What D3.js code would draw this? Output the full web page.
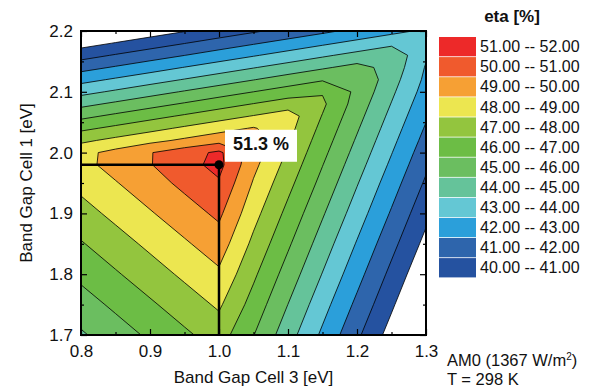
<!DOCTYPE html>
<html>
<head>
<meta charset="utf-8">
<script src="https://cdn.jsdelivr.net/npm/d3@7"></script>
<style>
body { margin: 0; background: #fff; }
text { font-family: "Liberation Sans", Arial, sans-serif; fill: #111; }
</style>
</head>
<body>
<script>

// grid of the calculation: band gap of cell 3 (columns) and cell 1 (rows, bottom to top)
var gapCell3 = [0.80, 0.85, 0.90, 0.95, 1.00, 1.05, 1.10, 1.15, 1.20, 1.25, 1.30];
var gapCell1 = [1.70, 1.75, 1.80, 1.85, 1.90, 1.95, 1.98, 2.00, 2.02, 2.04, 2.06,
                2.08, 2.10, 2.12, 2.14, 2.16, 2.18, 2.20];

// efficiency [%], one row per gapCell1 value
var eta = [
  [44.87, 45.52, 46.17, 46.82, 47.46, 46.03, 44.42, 42.81, 41.19, 39.58, 37.97],
  [45.55, 46.20, 46.85, 47.50, 48.15, 46.61, 44.99, 43.38, 41.77, 40.16, 38.54],
  [46.24, 46.89, 47.54, 48.19, 48.83, 47.18, 45.57, 43.96, 42.35, 40.73, 39.12],
  [46.92, 47.57, 48.22, 48.87, 49.52, 47.76, 46.15, 44.53, 42.92, 41.31, 39.70],
  [47.61, 48.26, 48.91, 49.56, 50.20, 48.34, 46.72, 45.11, 43.50, 41.89, 40.27],
  [48.29, 48.94, 49.59, 50.24, 50.89, 48.91, 47.30, 45.69, 44.07, 42.46, 40.85],
  [48.70, 49.35, 49.95, 50.65, 51.30, 49.26, 47.65, 46.03, 44.42, 42.81, 41.19],
  [48.70, 49.30, 49.95, 50.55, 51.20, 49.49, 47.88, 46.26, 44.65, 43.04, 41.42],
  [47.79, 48.26, 48.72, 49.18, 49.64, 49.72, 48.11, 46.49, 44.88, 43.27, 41.66],
  [46.77, 47.23, 47.69, 48.16, 48.62, 49.08, 48.34, 46.72, 45.11, 43.50, 41.89],
  [45.74, 46.21, 46.67, 47.13, 47.59, 48.05, 48.51, 46.95, 45.34, 43.73, 42.12],
  [44.72, 45.18, 45.64, 46.10, 46.57, 47.03, 47.49, 47.18, 45.57, 43.96, 42.35],
  [43.69, 44.15, 44.62, 45.08, 45.54, 46.00, 46.46, 46.92, 45.80, 44.19, 42.58],
  [42.67, 43.13, 43.59, 44.05, 44.51, 44.97, 45.44, 45.90, 45.95, 44.42, 42.78],
  [41.64, 42.10, 42.56, 43.03, 43.49, 43.95, 44.41, 44.87, 45.33, 44.65, 42.92],
  [40.61, 41.08, 41.54, 41.99, 42.46, 42.92, 43.38, 43.85, 44.31, 44.77, 43.12],
  [39.59, 40.05, 40.51, 40.97, 41.44, 41.90, 42.36, 42.82, 43.28, 43.74, 43.45],
  [38.56, 39.03, 39.49, 39.95, 40.41, 40.87, 41.33, 41.79, 42.26, 42.72, 43.18]
];

// contour levels and the colour of each band [level, level + 1]
var levels = [40, 41, 42, 43, 44, 45, 46, 47, 48, 49, 50, 51];
var bandColors = ["#2552a0", "#2e65ac", "#2b9fda", "#64c7d4", "#65c39a", "#6bbe60",
                  "#6cbd45", "#93c53e", "#ece650", "#f6a034", "#f05a2d", "#ed2929"];

var xTicks = [0.8, 0.9, 1.0, 1.1, 1.2, 1.3];
var yTicks = [1.7, 1.8, 1.9, 2.0, 2.1, 2.2];
var xMinor = [0.85, 0.95, 1.05, 1.15, 1.25];
var yMinor = [1.75, 1.85, 1.95, 2.05, 2.15];

// optimum
var optCell3 = 1.0,
    optCell1 = 1.98,
    optEta = 51.3;

var svg = d3.select("body").append("svg")
    .attr("width", 599)
    .attr("height", 390);

var x = d3.scaleLinear().domain([0.8, 1.3]).range([81, 426]),
    y = d3.scaleLinear().domain([1.7, 2.2]).range([335, 31]);

var pLeft = x.range()[0], pRight = x.range()[1],
    pTop = y.range()[1], pBottom = y.range()[0];

svg.append("defs").append("clipPath")
    .attr("id", "clip")
  .append("rect")
    .attr("x", pLeft)
    .attr("y", pTop)
    .attr("width", pRight - pLeft)
    .attr("height", pBottom - pTop);

// grid index -> band gap (rows are not evenly spaced)
var colToGap = d3.scaleLinear().domain(d3.range(gapCell3.length)).range(gapCell3).clamp(true),
    rowToGap = d3.scaleLinear().domain(d3.range(gapCell1.length)).range(gapCell1).clamp(true);

var nx = gapCell3.length, ny = gapCell1.length;
var values = [];
eta.forEach(function(row) { values = values.concat(row); });

var bands = d3.contours()
    .size([nx, ny])
    .thresholds(levels)(values);

// d3.contours puts sample i at i + 0.5
var toPixel = d3.geoTransform({
  point: function(cx, cy) {
    this.stream.point(x(colToGap(cx - 0.5)), y(rowToGap(cy - 0.5)));
  }
});
var path = d3.geoPath(toPixel);

var plot = svg.append("g").attr("clip-path", "url(#clip)");

plot.selectAll(".band")
    .data(bands)
    .enter().append("path")
    .attr("class", "band")
    .attr("d", path)
    .attr("fill", function(d, i) { return bandColors[i]; });

plot.selectAll(".iso")
    .data(bands)
    .enter().append("path")
    .attr("class", "iso")
    .attr("d", path)
    .attr("fill", "none")
    .attr("stroke", "#000")
    .attr("stroke-width", 0.8)
    .attr("stroke-linejoin", "round");

// crosshair to the optimum
plot.append("line")
    .attr("x1", pLeft).attr("x2", x(optCell3))
    .attr("y1", y(optCell1)).attr("y2", y(optCell1))
    .attr("stroke", "#000").attr("stroke-width", 2.5);
plot.append("line")
    .attr("x1", x(optCell3)).attr("x2", x(optCell3))
    .attr("y1", y(optCell1)).attr("y2", pBottom)
    .attr("stroke", "#000").attr("stroke-width", 2.5);
plot.append("circle")
    .attr("cx", x(optCell3))
    .attr("cy", y(optCell1))
    .attr("r", 4.5)
    .attr("fill", "#000");

var label = svg.append("g")
    .attr("transform", "translate(" + (x(optCell3) + 6) + "," + (y(optCell1) - 35) + ")");
label.append("rect")
    .attr("width", 72)
    .attr("height", 32)
    .attr("fill", "#fff");
label.append("text")
    .attr("x", 36)
    .attr("y", 14)
    .attr("dy", "0.35em")
    .attr("text-anchor", "middle")
    .style("font-size", "18px")
    .style("font-weight", "bold")
    .text(optEta.toFixed(1) + " %");

// axes, ticks point inwards on all four sides
var fmt = d3.format(".1f");

function ticks(g) {
  g.select(".domain").remove();
  g.selectAll(".tick line").attr("stroke", "#000").attr("stroke-width", 1.2);
  g.selectAll("text").style("font-size", "17px").attr("fill", "#111");
}

svg.append("g")
    .attr("transform", "translate(0," + pBottom + ")")
    .call(d3.axisBottom(x).tickValues(xTicks).tickFormat(fmt).tickSizeInner(-6).tickSizeOuter(0).tickPadding(10))
    .call(ticks);
svg.append("g")
    .attr("transform", "translate(0," + pBottom + ")")
    .call(d3.axisBottom(x).tickValues(xMinor).tickFormat("").tickSizeInner(-3).tickSizeOuter(0))
    .call(ticks);
svg.append("g")
    .attr("transform", "translate(0," + pTop + ")")
    .call(d3.axisTop(x).tickValues(xTicks).tickFormat("").tickSizeInner(-6).tickSizeOuter(0))
    .call(ticks);
svg.append("g")
    .attr("transform", "translate(0," + pTop + ")")
    .call(d3.axisTop(x).tickValues(xMinor).tickFormat("").tickSizeInner(-3).tickSizeOuter(0))
    .call(ticks);
svg.append("g")
    .attr("transform", "translate(" + pLeft + ",0)")
    .call(d3.axisLeft(y).tickValues(yTicks).tickFormat(fmt).tickSizeInner(-6).tickSizeOuter(0).tickPadding(8))
    .call(ticks);
svg.append("g")
    .attr("transform", "translate(" + pLeft + ",0)")
    .call(d3.axisLeft(y).tickValues(yMinor).tickFormat("").tickSizeInner(-3).tickSizeOuter(0))
    .call(ticks);
svg.append("g")
    .attr("transform", "translate(" + pRight + ",0)")
    .call(d3.axisRight(y).tickValues(yTicks).tickFormat("").tickSizeInner(-6).tickSizeOuter(0))
    .call(ticks);
svg.append("g")
    .attr("transform", "translate(" + pRight + ",0)")
    .call(d3.axisRight(y).tickValues(yMinor).tickFormat("").tickSizeInner(-3).tickSizeOuter(0))
    .call(ticks);

// frame
svg.append("rect")
    .attr("x", pLeft)
    .attr("y", pTop)
    .attr("width", pRight - pLeft)
    .attr("height", pBottom - pTop)
    .attr("fill", "none")
    .attr("stroke", "#000")
    .attr("stroke-width", 2);

// axis titles
svg.append("text")
    .attr("x", (pLeft + pRight) / 2)
    .attr("y", 377)
    .attr("dy", "0.35em")
    .attr("text-anchor", "middle")
    .style("font-size", "17px")
    .text("Band Gap Cell 3 [eV]");
svg.append("text")
    .attr("transform", "translate(26," + (pTop + pBottom) / 2 + ") rotate(-90)")
    .attr("dy", "0.35em")
    .attr("text-anchor", "middle")
    .style("font-size", "17px")
    .text("Band Gap Cell 1 [eV]");

// legend
var legend = svg.append("g").attr("transform", "translate(439,37)");
legend.append("text")
    .attr("x", 73)
    .attr("y", -21)
    .attr("dy", "0.35em")
    .attr("text-anchor", "middle")
    .style("font-size", "17px")
    .style("font-weight", "bold")
    .text("eta [%]");

var rows = legend.selectAll(".row")
    .data(levels.slice().reverse())
    .enter().append("g")
    .attr("class", "row")
    .attr("transform", function(d, i) { return "translate(0," + (i * 20.1) + ")"; });
rows.append("rect")
    .attr("width", 37)
    .attr("height", 19.3)
    .attr("fill", function(d) { return bandColors[levels.indexOf(d)]; });
rows.append("text")
    .attr("x", 41)
    .attr("y", 9.7)
    .attr("dy", "0.35em")
    .style("font-size", "16px")
    .text(function(d) { return d.toFixed(2) + " -- " + (d + 1).toFixed(2); });

// conditions
var cond = svg.append("text")
    .attr("x", 447)
    .attr("y", 366)
    .style("font-size", "16.5px");
cond.append("tspan").text("AM0 (1367 W/m");
cond.append("tspan").attr("dy", -6).style("font-size", "10px").text("2");
cond.append("tspan").attr("dy", 6).text(")");
svg.append("text")
    .attr("x", 447)
    .attr("y", 385)
    .style("font-size", "16.5px")
    .text("T = 298 K");

</script>
</body>
</html>
